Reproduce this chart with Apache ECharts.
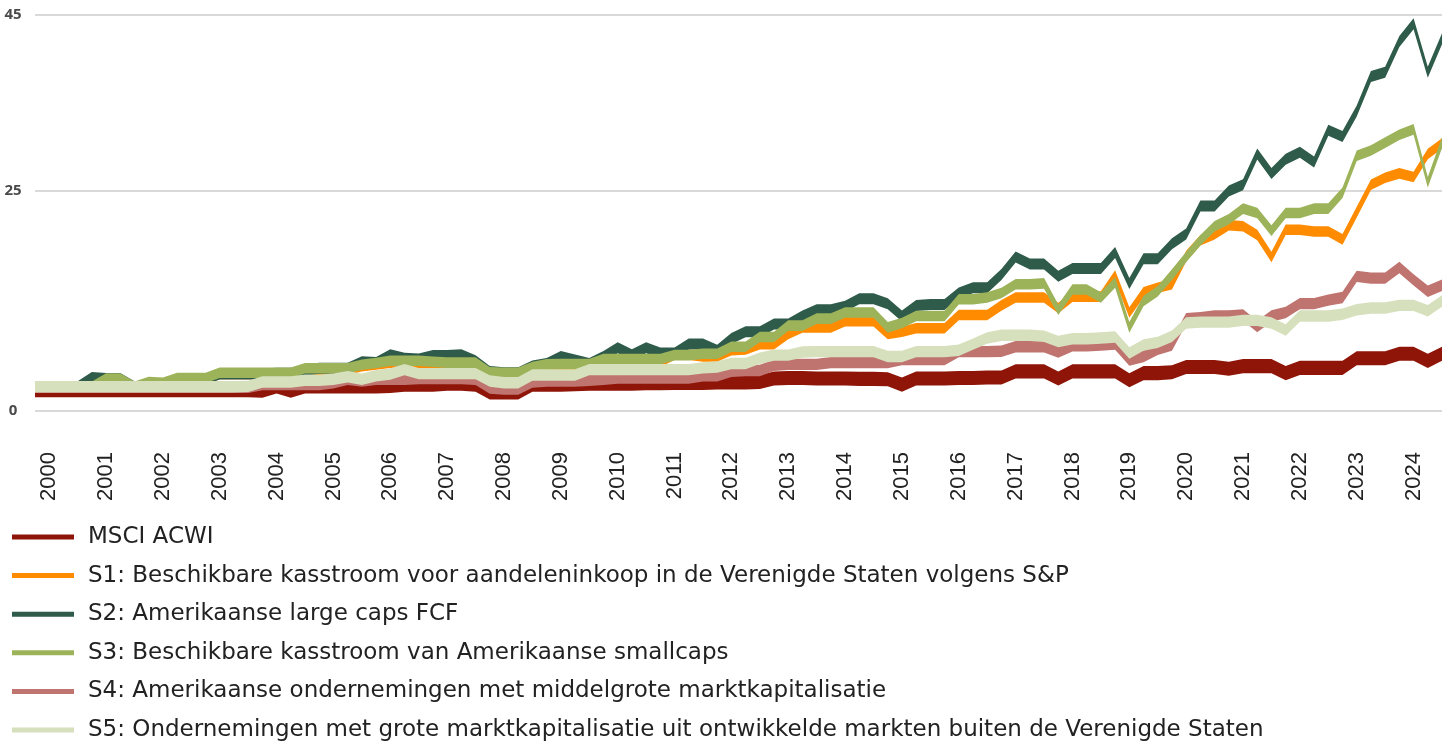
<!DOCTYPE html>
<html>
<head>
<meta charset="utf-8">
<script src="https://cdn.jsdelivr.net/npm/echarts@6/dist/echarts.min.js"></script>
<style>
  html, body { margin: 0; padding: 0; background: #fff; }
  #chart { width: 1450px; height: 744px; }
</style>
</head>
<body>
<div id="chart"></div>
<script>
// quarterly points, 1999 Q4 .. 2024 Q3
var firstYear = 2000, lastYear = 2024;

var msci = [
  2.35,
  2.35, 2.35, 2.35, 2.35,   // 2000
  2.35, 2.35, 2.35, 2.35,   // 2001
  2.35, 2.35, 2.35, 2.35,   // 2002
  2.35, 2.35, 2.35, 2.3,    // 2003
  2.8, 2.3, 2.8, 2.8,       // 2004
  2.8, 2.8, 2.8, 2.8,       // 2005
  2.85, 3.0, 3.0, 3.0,      // 2006
  3.1, 3.1, 3.0, 2.1,       // 2007
  2.1, 2.1, 3.0, 3.0,       // 2008
  3.0, 3.05, 3.1, 3.1,      // 2009
  3.1, 3.1, 3.15, 3.15,     // 2010
  3.2, 3.2, 3.2, 3.25,      // 2011
  3.25, 3.25, 3.3, 3.7,     // 2012
  3.75, 3.75, 3.7, 3.7,     // 2013
  3.7, 3.65, 3.65, 3.6,     // 2014
  3.0, 3.7, 3.7, 3.7,       // 2015
  3.75, 3.75, 3.8, 3.8,     // 2016
  4.5, 4.5, 4.5, 3.7,       // 2017
  4.5, 4.5, 4.5, 4.5,       // 2018
  3.5, 4.3, 4.3, 4.4,       // 2019
  5.0, 5.0, 5.0, 4.8,       // 2020
  5.1, 5.1, 5.1, 4.3,       // 2021
  4.9, 4.9, 4.9, 4.9,       // 2022
  6.0, 6.0, 6.0, 6.5,       // 2023
  6.5, 5.7, 6.5             // 2024
];

var s1 = [
  2.7,
  2.7, 2.7, 2.7, 2.7,       // 2000
  3.4, 3.4, 2.7, 2.7,       // 2001
  2.9, 3.6, 3.6, 3.6,       // 2002
  4.2, 4.2, 4.2, 4.2,       // 2003
  4.2, 4.2, 4.7, 4.7,       // 2004
  4.7, 4.7, 5.1, 5.3,       // 2005
  5.5, 5.5, 5.5, 5.4,       // 2006
  5.4, 5.4, 5.3, 4.3,       // 2007
  4.2, 4.2, 4.8, 5.1,       // 2008
  5.2, 5.2, 5.2, 5.6,       // 2009
  5.6, 5.6, 5.6, 5.6,       // 2010
  6.4, 6.4, 6.2, 6.2,       // 2011
  6.9, 7.0, 7.6, 7.6,       // 2012
  8.75, 9.5, 9.5, 9.5,      // 2013
  10.2, 10.2, 10.2, 8.75,   // 2014
  9.0, 9.4, 9.4, 9.4,       // 2015
  10.9, 10.9, 10.9, 12.0,   // 2016
  12.9, 12.9, 12.9, 11.7,   // 2017
  13.0, 13.0, 13.0, 15.4,   // 2018
  11.2, 13.5, 14.0, 14.4,   // 2019
  17.6, 19.4, 20.1, 21.1,   // 2020
  21.0, 20.0, 17.5, 20.6,   // 2021
  20.6, 20.4, 20.4, 19.5,   // 2022
  22.6, 25.7, 26.5, 27.0,   // 2023
  26.6, 29.2, 30.4          // 2024
];

var s2 = [
  2.75,
  2.75, 2.75, 2.75, 3.8,    // 2000
  3.7, 3.7, 2.75, 2.75,     // 2001
  3.0, 3.6, 3.6, 3.6,       // 2002
  4.2, 4.2, 4.2, 4.2,       // 2003
  4.3, 4.3, 4.6, 4.85,      // 2004
  4.85, 4.85, 5.6, 5.5,     // 2005
  6.4, 6.0, 5.9, 6.3,       // 2006
  6.3, 6.4, 5.7, 4.5,       // 2007
  4.35, 4.35, 5.1, 5.4,     // 2008
  6.2, 5.8, 5.4, 6.2,       // 2009
  7.2, 6.4, 7.2, 6.6,       // 2010
  6.6, 7.6, 7.6, 6.9,       // 2011
  8.25, 9.0, 9.0, 9.9,      // 2012
  9.9, 10.8, 11.5, 11.5,    // 2013
  11.9, 12.75, 12.75, 12.2, // 2014
  10.8, 12.0, 12.1, 12.1,   // 2015
  13.4, 14.0, 14.0, 15.5,   // 2016
  17.5, 16.7, 16.7, 15.3,   // 2017
  16.2, 16.2, 16.2, 18.0,   // 2018
  14.5, 17.3, 17.3, 19.0,   // 2019
  20.1, 23.3, 23.3, 25.0,   // 2020
  25.7, 29.2, 27.0, 28.6,   // 2021
  29.4, 28.3, 31.9, 31.2,   // 2022
  34.1, 38.0, 38.5, 42.0,   // 2023
  44.0, 38.5, 42.3          // 2024
];

var s3 = [
  2.75,
  2.75, 2.75, 2.75, 2.75,   // 2000
  3.7, 3.7, 2.75, 3.3,      // 2001
  3.2, 3.75, 3.75, 3.75,    // 2002
  4.35, 4.35, 4.35, 4.35,   // 2003
  4.35, 4.35, 4.85, 4.85,   // 2004
  4.85, 4.85, 5.25, 5.45,   // 2005
  5.7, 5.7, 5.7, 5.6,       // 2006
  5.5, 5.5, 5.5, 4.4,       // 2007
  4.35, 4.35, 5.0, 5.3,     // 2008
  5.35, 5.35, 5.35, 5.9,    // 2009
  5.9, 5.9, 5.9, 5.9,       // 2010
  6.35, 6.35, 6.5, 6.5,     // 2011
  7.3, 7.3, 8.4, 8.4,       // 2012
  9.7, 9.7, 10.5, 10.5,     // 2013
  11.2, 11.2, 11.2, 9.5,    // 2014
  10.0, 10.8, 10.8, 10.8,   // 2015
  12.7, 12.7, 12.9, 13.4,   // 2016
  14.4, 14.4, 14.5, 11.5,   // 2017
  13.8, 13.8, 12.9, 14.6,   // 2018
  9.5, 12.5, 13.6, 15.5,    // 2019
  17.5, 19.4, 21.0, 21.8,   // 2020
  23.0, 22.5, 20.5, 22.5,   // 2021
  22.5, 23.0, 23.0, 24.8,   // 2022
  29.0, 29.6, 30.5, 31.4,   // 2023
  32.0, 26.0, 30.5          // 2024
];

var s4 = [
  2.7,
  2.7, 2.7, 2.7, 2.7,       // 2000
  2.7, 2.7, 2.7, 2.7,       // 2001
  2.7, 2.7, 2.7, 2.7,       // 2002
  2.7, 2.7, 2.7, 3.0,       // 2003
  3.0, 3.0, 3.0, 3.0,       // 2004
  3.2, 3.6, 3.4, 3.6,       // 2005
  3.6, 3.6, 3.7, 3.7,       // 2006
  3.7, 3.7, 3.6, 2.6,       // 2007
  2.5, 2.5, 3.3, 3.4,       // 2008
  3.4, 3.4, 3.5, 3.6,       // 2009
  3.75, 3.75, 3.75, 3.75,   // 2010
  3.75, 3.75, 4.0, 4.0,     // 2011
  4.5, 4.6, 4.6, 5.2,       // 2012
  5.3, 5.3, 5.3, 5.5,       // 2013
  5.5, 5.5, 5.5, 5.5,       // 2014
  5.85, 5.85, 5.85, 5.85,   // 2015
  6.75, 6.75, 6.75, 6.8,    // 2016
  7.3, 7.3, 7.3, 6.7,       // 2017
  7.4, 7.4, 7.5, 7.6,       // 2018
  5.8, 6.2, 7.0, 7.5,       // 2019
  10.5, 10.6, 10.8, 10.8,   // 2020
  10.9, 9.6, 10.8, 11.2,    // 2021
  12.2, 12.2, 12.6, 12.9,   // 2022
  15.3, 15.1, 15.1, 16.3,   // 2023
  14.9, 13.6, 14.3          // 2024
];

var s5 = [
  2.75,
  2.75, 2.75, 2.75, 2.75,   // 2000
  2.75, 2.75, 2.75, 2.75,   // 2001
  2.75, 2.75, 2.75, 2.75,   // 2002
  2.75, 2.75, 2.8, 3.3,     // 2003
  3.3, 3.3, 3.5, 3.5,       // 2004
  3.6, 3.9, 3.6, 4.0,       // 2005
  4.2, 4.7, 4.25, 4.25,     // 2006
  4.25, 4.25, 4.25, 3.4,    // 2007
  3.2, 3.2, 4.1, 4.1,       // 2008
  4.1, 4.1, 4.7, 4.7,       // 2009
  4.7, 4.7, 4.7, 4.7,       // 2010
  4.7, 4.7, 4.9, 5.0,       // 2011
  5.4, 5.4, 6.0, 6.35,      // 2012
  6.35, 6.7, 6.75, 6.75,    // 2013
  6.75, 6.75, 6.75, 6.2,    // 2014
  6.2, 6.75, 6.75, 6.75,    // 2015
  6.9, 7.6, 8.3, 8.6,       // 2016
  8.6, 8.6, 8.5, 7.9,       // 2017
  8.2, 8.2, 8.3, 8.4,       // 2018
  6.6, 7.5, 7.8, 8.5,       // 2019
  10.0, 10.1, 10.1, 10.1,   // 2020
  10.3, 10.3, 10.0, 9.2,    // 2021
  10.8, 10.8, 10.8, 11.0,   // 2022
  11.5, 11.7, 11.7, 12.0,   // 2023
  12.0, 11.4, 12.5          // 2024
];

var names = [
  'MSCI ACWI',
  'S1: Beschikbare kasstroom voor aandeleninkoop in de Verenigde Staten volgens S&P',
  'S2: Amerikaanse large caps FCF',
  'S3: Beschikbare kasstroom van Amerikaanse smallcaps',
  'S4: Amerikaanse ondernemingen met middelgrote marktkapitalisatie',
  'S5: Ondernemingen met grote marktkapitalisatie uit ontwikkelde markten buiten de Verenigde Staten'
];
var colors = ['#8e1508', '#ff8c00', '#2e5b4a', '#9cb35a', '#c07470', '#d6e0bc'];
var yTicks = [0, 25, 45];

// category labels: 1999 Q4 first, then every quarter up to 2024 Q3
var quarters = ['1999 Q4'];
for (var y = firstYear; y <= lastYear; y++) {
  for (var q = 1; q <= 4; q++) {
    if (y === lastYear && q === 4) break;
    quarters.push(y + ' Q' + q);
  }
}

// each line is drawn as a band of fixed height around its value
var bandHeight = [1.6, 1.2, 1.25, 1.2, 1.3, 1.3];
var series = [];
[msci, s1, s2, s3, s4, s5].forEach(function (vals, k) {
  var h = bandHeight[k];
  series.push({
    name: names[k] + ' (base)',
    type: 'line',
    stack: 'band' + k,
    silent: true,
    symbol: 'none',
    lineStyle: { opacity: 0 },
    data: vals.map(function (v) { return +(v - h / 2).toFixed(3); })
  });
  series.push({
    name: names[k],
    type: 'line',
    stack: 'band' + k,
    silent: true,
    symbol: 'none',
    itemStyle: { color: colors[k] },
    lineStyle: { width: 0 },
    areaStyle: { color: colors[k], opacity: 1 },
    data: vals.map(function () { return h; })
  });
});

var chart = echarts.init(document.getElementById('chart'));
chart.setOption({
  animation: false,
  grid: { left: 35, right: 8, top: 15, bottom: 333 },
  xAxis: {
    type: 'category',
    data: quarters,
    boundaryGap: false,
    axisLine: { show: false },
    axisTick: { show: false },
    splitLine: { show: false },
    axisLabel: {
      rotate: 90,
      margin: 41,
      fontSize: 22,
      fontFamily: 'Liberation Sans',
      color: '#222',
      interval: function (idx, val) { return /Q1$/.test(val); },
      formatter: function (val) { return val.slice(0, 4); }
    }
  },
  yAxis: {
    type: 'value',
    min: 0,
    max: 45,
    axisLine: { show: false },
    axisTick: { show: false, customValues: yTicks },
    axisLabel: {
      customValues: yTicks,
      align: 'center',
      margin: 22,
      fontSize: 15,
      fontWeight: 'bold',
      fontFamily: 'Open Sans',
      color: '#4a4a4a'
    },
    splitLine: { lineStyle: { color: '#d9d9d9', width: 2 } }
  },
  legend: {
    orient: 'vertical',
    left: 12,
    top: 525,
    padding: 0,
    itemWidth: 62,
    itemHeight: 5,
    itemGap: 14.6,
    selectedMode: false,
    data: names.map(function (n) { return { name: n, icon: 'rect' }; }),
    textStyle: {
      fontSize: 23,
      lineHeight: 24,
      fontFamily: 'DejaVu Sans',
      color: '#222',
      padding: [0, 0, 0, 9]
    }
  },
  series: series
});
</script>
</body>
</html>
